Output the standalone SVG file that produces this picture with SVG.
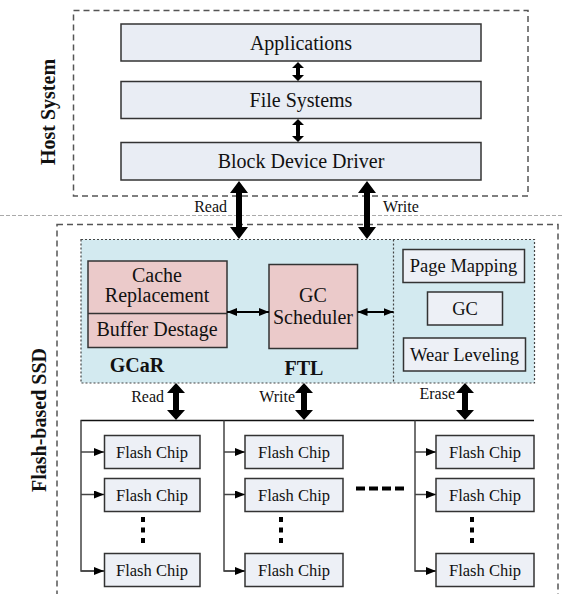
<svg xmlns="http://www.w3.org/2000/svg" width="564" height="594" viewBox="0 0 564 594" font-family="'Liberation Serif', 'Times New Roman', Times, serif">
<style>
text{font-family:"Liberation Serif","Times New Roman",Times,serif;fill:#111}
.t20{font-size:20px;text-anchor:middle}
.t18{font-size:18.5px;text-anchor:middle}
.t16{font-size:16px}
.chipT{font-size:16.5px;text-anchor:middle}
.bold{font-weight:bold}
.hostbox{fill:#e9edf4;stroke:#333;stroke-width:1.5}
.chip{fill:#edf0f6;stroke:#333;stroke-width:1.5}
.pink{fill:#ebcaca;stroke:#333;stroke-width:1.5}
.gray{fill:#edf0f6;stroke:#333;stroke-width:1.5}
.dash{fill:none;stroke:#555;stroke-width:1.5;stroke-dasharray:6 4}
.dot{fill:none;stroke:#444;stroke-width:1.2;stroke-dasharray:2 2}
.bus{fill:none;stroke:#111;stroke-width:1.5}
.col{fill:none;stroke:#444;stroke-width:1.5}
.big{fill:#000}
.dots{fill:none;stroke:#000;stroke-width:4}
</style>
<defs>
<marker id="ah" viewBox="0 0 10 8" refX="10" refY="4" markerWidth="10" markerHeight="8" markerUnits="userSpaceOnUse" orient="auto-start-reverse">
<path d="M0,0 L10,4 L0,8 Z" fill="#000"/>
</marker>
</defs>

<line x1="0" y1="215.5" x2="564" y2="215.5" stroke="#aaa" stroke-width="1" stroke-dasharray="4 2"/>

<g id="host-system">
<rect x="73.5" y="10.5" width="454.5" height="185.5" class="dash"/>
<text class="t20 bold" transform="translate(55,112) rotate(-90)">Host System</text>
</g>
<g id="applications">
<rect x="121" y="24" width="360" height="37" class="hostbox"/>
<text class="t20" x="301" y="49.5">Applications</text>
</g>
<g id="file-systems">
<rect x="121" y="81.5" width="360" height="37" class="hostbox"/>
<text class="t20" x="301" y="107">File Systems</text>
</g>
<g id="block-device-driver">
<rect x="121" y="142.5" width="360" height="37.5" class="hostbox"/>
<text class="t20" x="301" y="168">Block Device Driver</text>
</g>

<g id="ssd">
<rect x="57" y="224.5" width="501" height="380" class="dash"/>
<text class="t20 bold" transform="translate(46,420) rotate(-90)">Flash-based SSD</text>
</g>

<g id="ftl-area">
<rect x="81" y="239.5" width="453.5" height="143.5" fill="#d3eaf0" stroke="none"/>
<rect x="81" y="239.5" width="453.5" height="143.5" class="dot"/>
<line x1="393.5" y1="239.5" x2="393.5" y2="383" class="dot"/>
<text class="t20 bold" x="137" y="372">GCaR</text>
<text class="t20 bold" x="304" y="375">FTL</text>
</g>

<g id="gcar">
<rect x="88" y="261" width="139" height="86.5" class="pink"/>
<line x1="88" y1="313.5" x2="227" y2="313.5" stroke="#333" stroke-width="1.5"/>
<text class="t20" x="157" y="282">Cache</text>
<text class="t20" x="157" y="302">Replacement</text>
<text class="t20" x="157" y="336">Buffer Destage</text>
</g>
<g id="gc-scheduler">
<rect x="269" y="264.5" width="88.5" height="84" class="pink"/>
<text class="t20" x="313" y="302">GC</text>
<text class="t20" x="313" y="324">Scheduler</text>
</g>
<g id="page-mapping">
<rect x="403" y="249.5" width="121.5" height="33" class="gray"/>
<text class="t18" x="463.5" y="272">Page Mapping</text>
</g>
<g id="gc">
<rect x="427.5" y="292" width="75" height="33" class="gray"/>
<text class="t18" x="465" y="315">GC</text>
</g>
<g id="wear-leveling">
<rect x="403.5" y="338" width="122" height="33" class="gray"/>
<text class="t18" x="464.5" y="361">Wear Leveling</text>
</g>

<g id="flash-chips">
<rect x="104.5" y="435.5" width="95.5" height="33" class="chip"/><text class="chipT" x="152" y="458">Flash Chip</text>
<rect x="104.5" y="478.5" width="95.5" height="33" class="chip"/><text class="chipT" x="152" y="501">Flash Chip</text>
<rect x="104.5" y="553.5" width="95.5" height="33" class="chip"/><text class="chipT" x="152" y="576">Flash Chip</text>
<rect x="245" y="435.5" width="98" height="33" class="chip"/><text class="chipT" x="294" y="458">Flash Chip</text>
<rect x="245" y="478.5" width="98" height="33" class="chip"/><text class="chipT" x="294" y="501">Flash Chip</text>
<rect x="245" y="553.5" width="98" height="33" class="chip"/><text class="chipT" x="294" y="576">Flash Chip</text>
<rect x="436" y="435.5" width="98" height="33" class="chip"/><text class="chipT" x="485" y="458">Flash Chip</text>
<rect x="436" y="478.5" width="98" height="33" class="chip"/><text class="chipT" x="485" y="501">Flash Chip</text>
<rect x="436" y="553.5" width="98" height="33" class="chip"/><text class="chipT" x="485" y="576">Flash Chip</text>
</g>

<g id="connectors">
<path class="big" d="M298,62 L304,68 L300,68 L300,75 L304,75 L298,81 L292,75 L296,75 L296,68 L292,68 Z"/>
<path class="big" d="M298,119 L304,125 L300,125 L300,136 L304,136 L298,142 L292,136 L296,136 L296,125 L292,125 Z"/>
<path class="big" d="M239,181 L248,193 L242,193 L242,227 L248,227 L239,239 L230,227 L236,227 L236,193 L230,193 Z"/>
<path class="big" d="M367,181 L376,193 L370,193 L370,227 L376,227 L367,239 L358,227 L364,227 L364,193 L358,193 Z"/>
<text class="t16" x="227" y="212" text-anchor="end">Read</text>
<text class="t16" x="383" y="212">Write</text>
<line x1="227" y1="312" x2="269" y2="312" stroke="#000" stroke-width="1.8" marker-start="url(#ah)" marker-end="url(#ah)"/>
<line x1="357.5" y1="312" x2="393.5" y2="312" stroke="#000" stroke-width="1.8" marker-start="url(#ah)" marker-end="url(#ah)"/>
<path class="big" d="M176,383 L185,393 L179,393 L179,410 L185,410 L176,420 L167,410 L173,410 L173,393 L167,393 Z"/>
<path class="big" d="M304,383 L313,393 L307,393 L307,410 L313,410 L304,420 L295,410 L301,410 L301,393 L295,393 Z"/>
<path class="big" d="M465,383 L474,393 L468,393 L468,410 L474,410 L465,420 L456,410 L462,410 L462,393 L456,393 Z"/>
<text class="t16" x="164" y="402" text-anchor="end">Read</text>
<text class="t16" x="295" y="402" text-anchor="end">Write</text>
<text class="t16" x="455" y="399" text-anchor="end">Erase</text>
<line x1="80.5" y1="420.5" x2="534" y2="420.5" class="bus"/>
<path class="col" d="M81,420.5 V571 H104"/>
<path class="col" d="M224,420.5 V571 H245"/>
<path class="col" d="M415,420.5 V571 H436"/>
<line x1="81" y1="452" x2="104" y2="452" class="col" marker-end="url(#ah)"/>
<line x1="81" y1="494.5" x2="104" y2="494.5" class="col" marker-end="url(#ah)"/>
<line x1="81" y1="571" x2="104" y2="571" class="col" marker-end="url(#ah)"/>
<line x1="224" y1="452" x2="245" y2="452" class="col" marker-end="url(#ah)"/>
<line x1="224" y1="494.5" x2="245" y2="494.5" class="col" marker-end="url(#ah)"/>
<line x1="224" y1="571" x2="245" y2="571" class="col" marker-end="url(#ah)"/>
<line x1="415" y1="452" x2="436" y2="452" class="col" marker-end="url(#ah)"/>
<line x1="415" y1="494.5" x2="436" y2="494.5" class="col" marker-end="url(#ah)"/>
<line x1="415" y1="571" x2="436" y2="571" class="col" marker-end="url(#ah)"/>
<line x1="143" y1="517" x2="143" y2="543" class="dots" stroke-dasharray="5 5.5"/>
<line x1="281" y1="517" x2="281" y2="543" class="dots" stroke-dasharray="5 5.5"/>
<line x1="472" y1="517" x2="472" y2="543" class="dots" stroke-dasharray="5 5.5"/>
<line x1="356" y1="488.5" x2="404" y2="488.5" class="dots" stroke-dasharray="9 4"/>
</g>
</svg>
